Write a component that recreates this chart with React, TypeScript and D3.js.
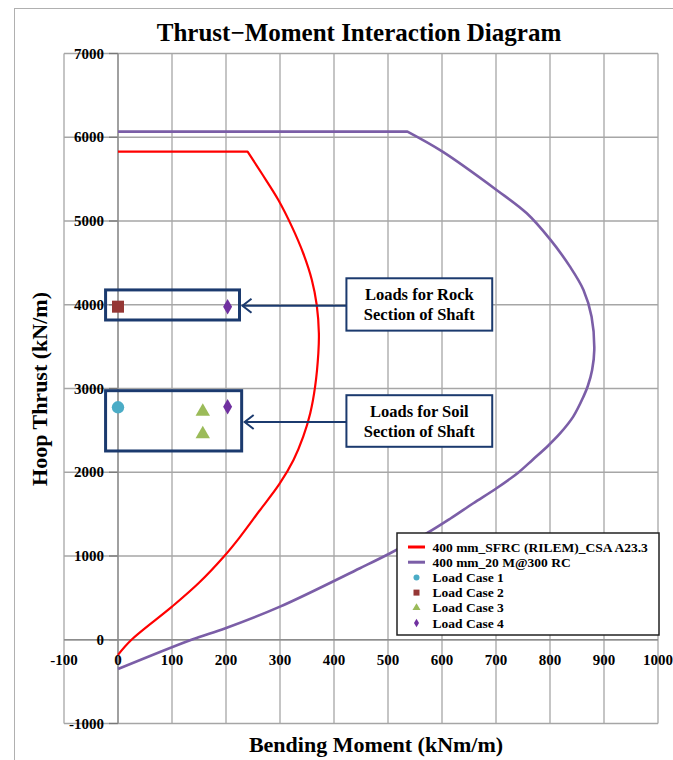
import React from "react";
import * as d3 from "d3";

// Interaction curve: 400 mm SFRC (RILEM) CSA A23.3
const sfrcMoment = [0, 25, 100, 150, 197, 225, 262, 299, 325, 343, 356, 365, 371, 372, 368, 359, 343, 322, 297, 266, 240, 0];
const sfrcThrust = [-180, 0, 395, 680, 1000, 1220, 1540, 1860, 2147, 2425, 2705, 3022, 3421, 3660, 3998, 4296, 4615, 4933, 5251, 5570, 5828, 5828];

// Interaction curve: 400 mm 20M@300 RC
const rcMoment = [0, 136, 199, 300, 448, 504, 572, 615, 658, 701, 741, 768, 797, 819, 843, 862, 870, 878, 882, 877, 862, 837, 801, 757, 701, 601, 536, 0];
const rcThrust = [-350, 0, 137, 395, 854, 1033, 1272, 1445, 1630, 1809, 1995, 2150, 2320, 2466, 2664, 2903, 3030, 3222, 3460, 3858, 4177, 4455, 4774, 5092, 5371, 5828, 6067, 6067];

// load cases
const case1 = [{ m: 0, t: 2776 }];
const case2 = [{ m: 0, t: 3977 }];
const case3 = [{ m: 157, t: 2724 }, { m: 157, t: 2457 }];
const case4 = [{ m: 203, t: 3977 }, { m: 203, t: 2783 }];

const momentTicks = [-100, 0, 100, 200, 300, 400, 500, 600, 700, 800, 900, 1000];
const thrustTicks = [-1000, 0, 1000, 2000, 3000, 4000, 5000, 6000, 7000];

const legendLabels = [
  "400 mm_SFRC (RILEM)_CSA A23.3",
  "400 mm_20 M@300 RC",
  "Load Case 1",
  "Load Case 2",
  "Load Case 3",
  "Load Case 4",
];

const RED = "#ff0000";
const PURPLE = "#7b5ea7";
const TEAL = "#4bacc6";
const BROWN = "#953735";
const GREEN = "#9bbb59";
const VIOLET = "#7030a0";
const NAVY = "#1b3a6e";
const GRID = "#a6a6a6";
const FONT = "'Liberation Serif', 'Times New Roman', serif";

const App = () => {
  const width = 673;
  const height = 760;

  const x = d3.scaleLinear().domain([-100, 1000]).range([64, 658]);
  const y = d3.scaleLinear().domain([-1000, 7000]).range([723.5, 53.5]);

  const smooth = d3
    .line<[number, number]>()
    .x((d) => x(d[0]))
    .y((d) => y(d[1]))
    .curve(d3.curveCatmullRom.alpha(0.5));
  const straight = d3
    .line<[number, number]>()
    .x((d) => x(d[0]))
    .y((d) => y(d[1]));

  const sfrc = sfrcMoment.map((m, i) => [m, sfrcThrust[i]] as [number, number]);
  const rc = rcMoment.map((m, i) => [m, rcThrust[i]] as [number, number]);

  // curved part is smoothed, the flat cap (last two points) stays straight
  const curvePath = (pts) => smooth(pts.slice(0, -1)) + straight(pts.slice(-2)).replace("M", "L");

  const tri = d3.symbol().type(d3.symbolTriangle);
  const dia = d3.symbol().type(d3.symbolDiamond);

  // navy annotation boxes (data coords)
  const rockBox = { m0: -23, m1: 225, t0: 3818, t1: 4177 };
  const soilBox = { m0: -23, m1: 229, t0: 2254, t1: 2974 };
  const rockNote = { m0: 423, m1: 693, t0: 3691, t1: 4316 };
  const soilNote = { m0: 423, m1: 693, t0: 2304, t1: 2920 };

  const box = (b, sw) => (
    <rect
      x={x(b.m0)}
      y={y(b.t1)}
      width={x(b.m1) - x(b.m0)}
      height={y(b.t0) - y(b.t1)}
      fill={sw > 2 ? "none" : "#fff"}
      stroke={NAVY}
      strokeWidth={sw}
    />
  );

  const arrow = (x1, x2, yy) => (
    <g stroke={NAVY} strokeWidth={2} fill="none">
      <line x1={x1} y1={yy} x2={x2 + 1} y2={yy} />
      <polyline points={`${x2 + 10},${yy - 7} ${x2 + 1},${yy} ${x2 + 10},${yy + 7}`} />
    </g>
  );

  const note = (b, lines) => {
    const cx = (x(b.m0) + x(b.m1)) / 2;
    const cy = (y(b.t0) + y(b.t1)) / 2;
    return (
      <g>
        {box(b, 2)}
        {lines.map((l, i) => (
          <text
            key={i}
            x={cx}
            y={cy + (i - 0.5) * 20 + 6}
            textAnchor="middle"
            fontSize={16.5}
            fontWeight="bold"
          >
            {l}
          </text>
        ))}
      </g>
    );
  };

  const lg = { x: 397, y: 533, w: 262, h: 102 };
  const rowY = (i) => lg.y + 14 + i * 15.2;

  return (
    <svg
      width={width}
      height={height}
      style={{ position: "absolute", left: 0, top: 0, background: "#fff" }}
      fontFamily={FONT}
    >
      <rect x={14.5} y={8.5} width={700} height={800} fill="#fff" stroke="#b0b0b0" />

      <text x={359} y={40.5} textAnchor="middle" fontSize={25} fontWeight="bold">
        Thrust−Moment Interaction Diagram
      </text>

      {/* grid */}
      <g stroke={GRID} strokeWidth={1.3}>
        {momentTicks.map((m) => (
          <line key={m} x1={x(m)} x2={x(m)} y1={y(7000)} y2={y(-1000)} />
        ))}
        {thrustTicks.map((t) => (
          <line key={t} x1={x(-100)} x2={x(1000)} y1={y(t)} y2={y(t)} />
        ))}
        {thrustTicks.map((t) => (
          <line key={"k" + t} x1={x(0) - 9} x2={x(0)} y1={y(t)} y2={y(t)} stroke="#777" />
        ))}
      </g>
      <line x1={x(0)} x2={x(0)} y1={y(7000)} y2={y(-1000)} stroke="#8c8c8c" strokeWidth={1.3} />
      <line x1={x(-100)} x2={x(1000)} y1={y(0)} y2={y(0)} stroke="#8c8c8c" strokeWidth={1.3} />

      {/* tick labels */}
      <g fontSize={15} fontWeight="bold">
        {thrustTicks.map((t) => (
          <text key={t} x={104} y={y(t) + 5} textAnchor="end">
            {t}
          </text>
        ))}
        {momentTicks.map((m) => (
          <text key={m} x={x(m)} y={y(0) + 25} textAnchor="middle">
            {m}
          </text>
        ))}
      </g>

      {/* axis titles */}
      <text
        transform={`translate(47, 389) rotate(-90)`}
        textAnchor="middle"
        fontSize={22}
        fontWeight="bold"
      >
        Hoop Thrust (kN/m)
      </text>
      <text x={376} y={752} textAnchor="middle" fontSize={22} fontWeight="bold">
        Bending Moment (kNm/m)
      </text>

      {/* curves */}
      <path d={curvePath(rc)} fill="none" stroke={PURPLE} strokeWidth={2.6} strokeLinejoin="round" />
      <path d={curvePath(sfrc)} fill="none" stroke={RED} strokeWidth={2.2} strokeLinejoin="round" />

      {/* load groups */}
      {box(rockBox, 3)}
      {box(soilBox, 3)}
      {arrow(x(rockNote.m0), x(rockBox.m1) + 2, y(3977) - 1)}
      {arrow(x(soilNote.m0), x(soilBox.m1) + 2, y(2600))}
      {note(rockNote, ["Loads for Rock", "Section  of Shaft"])}
      {note(soilNote, ["Loads for Soil", "Section  of Shaft"])}

      {/* points */}
      {case1.map((d, i) => (
        <circle key={i} cx={x(d.m)} cy={y(d.t)} r={6.2} fill={TEAL} />
      ))}
      {case2.map((d, i) => (
        <rect key={i} x={x(d.m) - 6} y={y(d.t) - 6} width={12} height={12} fill={BROWN} />
      ))}
      {case3.map((d, i) => (
        <path key={i} d={tri.size(90)()} transform={`translate(${x(d.m)},${y(d.t)})`} fill={GREEN} />
      ))}
      {case4.map((d, i) => (
        <path key={i} d={dia.size(70)()} transform={`translate(${x(d.m)},${y(d.t)})`} fill={VIOLET} />
      ))}

      {/* legend */}
      <g>
        <rect x={lg.x} y={lg.y} width={lg.w} height={lg.h} fill="#fff" stroke="#222" strokeWidth={1.5} />
        <line x1={408} x2={425} y1={rowY(0)} y2={rowY(0)} stroke={RED} strokeWidth={3} />
        <line x1={408} x2={425} y1={rowY(1)} y2={rowY(1)} stroke={PURPLE} strokeWidth={3} />
        <circle cx={416.5} cy={rowY(2)} r={3} fill={TEAL} />
        <rect x={413.5} y={rowY(3) - 3} width={6} height={6} fill={BROWN} />
        <path d={tri.size(28)()} transform={`translate(416.5,${rowY(4)})`} fill={GREEN} />
        <path d={dia.size(22)()} transform={`translate(416.5,${rowY(5)})`} fill={VIOLET} />
        {legendLabels.map((l, i) => (
          <text key={l} x={432.5} y={rowY(i) + 4.5} fontSize={13.5} fontWeight="bold">
            {l}
          </text>
        ))}
      </g>
    </svg>
  );
};

export default App;
